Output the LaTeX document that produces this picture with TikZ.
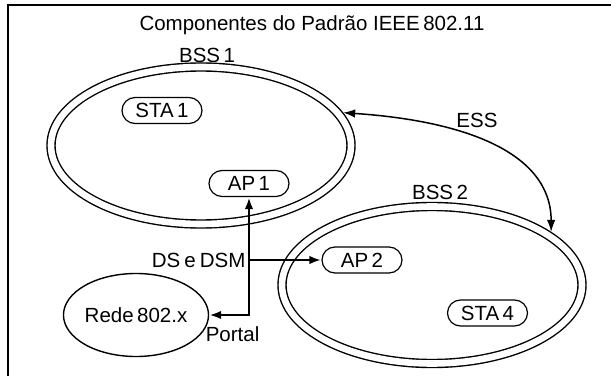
\documentclass[tikz,border=0pt]{standalone}
\usepackage{fontspec}
\setmainfont{Liberation Sans}
\usetikzlibrary{shapes,arrows.meta,positioning}
\tikzstyle{bss} = [ellipse, draw, double, line width=1.4pt, double distance=6.6pt,
    minimum width=300pt, minimum height=157pt, inner sep=0pt, outer sep=4.7pt]
\tikzstyle{station} = [rounded rectangle, draw, line width=1.2pt,
    minimum width=80pt, minimum height=26pt, inner sep=0pt]
\tikzstyle{net} = [ellipse, draw, line width=1.4pt,
    minimum width=136pt, minimum height=83pt, inner sep=0pt]
\tikzstyle{line} = [draw, line width=1.5pt, {Latex[length=12pt,width=8.5pt]}-{Latex[length=12pt,width=8.5pt]}]
\tikzstyle{dsline} = [line, line width=2.4pt]

\begin{document}
\begin{tikzpicture}[x=1pt, y=1pt, font=\fontsize{20.5}{24}\selectfont]
    \useasboundingbox (0,0) rectangle (611,376);
    % Frame
    \draw[line width=1.6pt] (8,0) |- (611,371);
    % Place nodes
    \node (title) at (312,351) {Componentes do Padrão IEEE\,802.11};
    \node [bss, label={[xshift=6pt, label distance=-4pt]above:BSS\,1}] (bss1) at (201,230.5) {};
    \node [bss, label={[xshift=8pt, label distance=-1pt]above:BSS\,2}] (bss2) at (432,91) {};
    \node [station] (sta1) at (162,265.5) {STA\,1};
    \node [station] (ap1) at (249,192.5) {AP\,1};
    \node [station] (ap2) at (362,116) {AP\,2};
    \node [station] (sta4) at (487.5,63) {STA\,4};
    \node [net] (rede) at (136,61) {Rede\,802.x};
    \node (esslabel) at (477,256) {ESS};
    \coordinate (split) at (ap1.south |- ap2.west);
    \node [left = 0pt of split] (dslabel) {DS\hspace{0.2em}e\hspace{0.2em}DSM};
    \node [below right = 8pt and -7pt of rede.east] (portal) {Portal};
    \path [line] (bss1.13) .. controls +(120,-8) and +(0,80) .. (bss2.24);
    \path [dsline] (rede.east) -| (ap1.south);
    \path [dsline, -{Latex[length=12pt,width=8.5pt]}] (split) -- (ap2.west);
\end{tikzpicture}
\end{document}
